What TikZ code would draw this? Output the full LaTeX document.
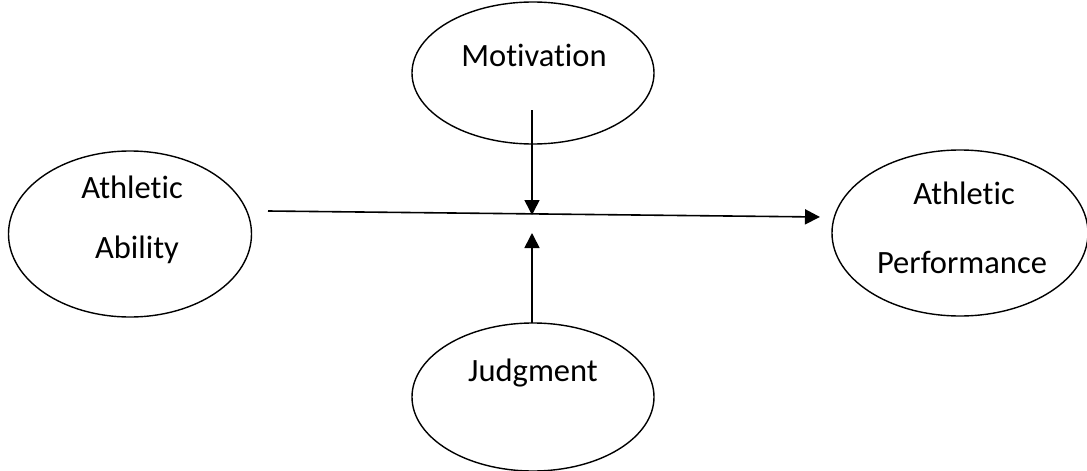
\documentclass[tikz,border=0pt]{standalone}
\usepackage{fontspec}
\setmainfont[Ligatures=NoCommon]{Carlito}
\usetikzlibrary{shapes.geometric,arrows.meta}
\begin{document}
\begin{tikzpicture}[x=1pt,y=-1pt,
  oval/.style={draw,ellipse,line width=1.4pt,inner sep=0pt},
  lbl/.style={font=\fontsize{32.5}{38}\selectfont,inner sep=0pt},
  link/.style={line width=1.6pt,-{Triangle[length=15pt,width=15pt]}}]
\useasboundingbox (0,0) rectangle (1087,471);
% construct ovals
\node[oval,minimum width=243pt,minimum height=166pt] (abil) at (130,234) {};
\node[oval,minimum width=242pt,minimum height=142pt] (moti) at (533,73) {};
\node[oval,minimum width=242pt,minimum height=148pt] (judg) at (533,397) {};
\node[oval,minimum width=256pt,minimum height=166pt] (perf) at (960,233) {};
% labels
\node[lbl] (abilA) at (132,187) {Athletic};
\node[lbl] (abilB) at (137,250) {Ability};
\node[lbl] (motiL) at (534,55) {Motivation};
\node[lbl] (judgL) at (533,373) {Judgment};
\node[lbl] (perfA) at (964,193) {Athletic};
\node[lbl] (perfB) at (962,262) {Performance};
% connector end points
\coordinate (hs) at (268,211);
\coordinate (he) at (820,217);
\coordinate (ds) at (532,110);
\coordinate (de) at (532,215);
\coordinate (us) at (532,323);
\coordinate (ue) at (532,233);
% connectors
\draw[link] (hs) -- (he);
\draw[link] (ds) -- (de);
\draw[link] (us) -- (ue);
\end{tikzpicture}
\end{document}
